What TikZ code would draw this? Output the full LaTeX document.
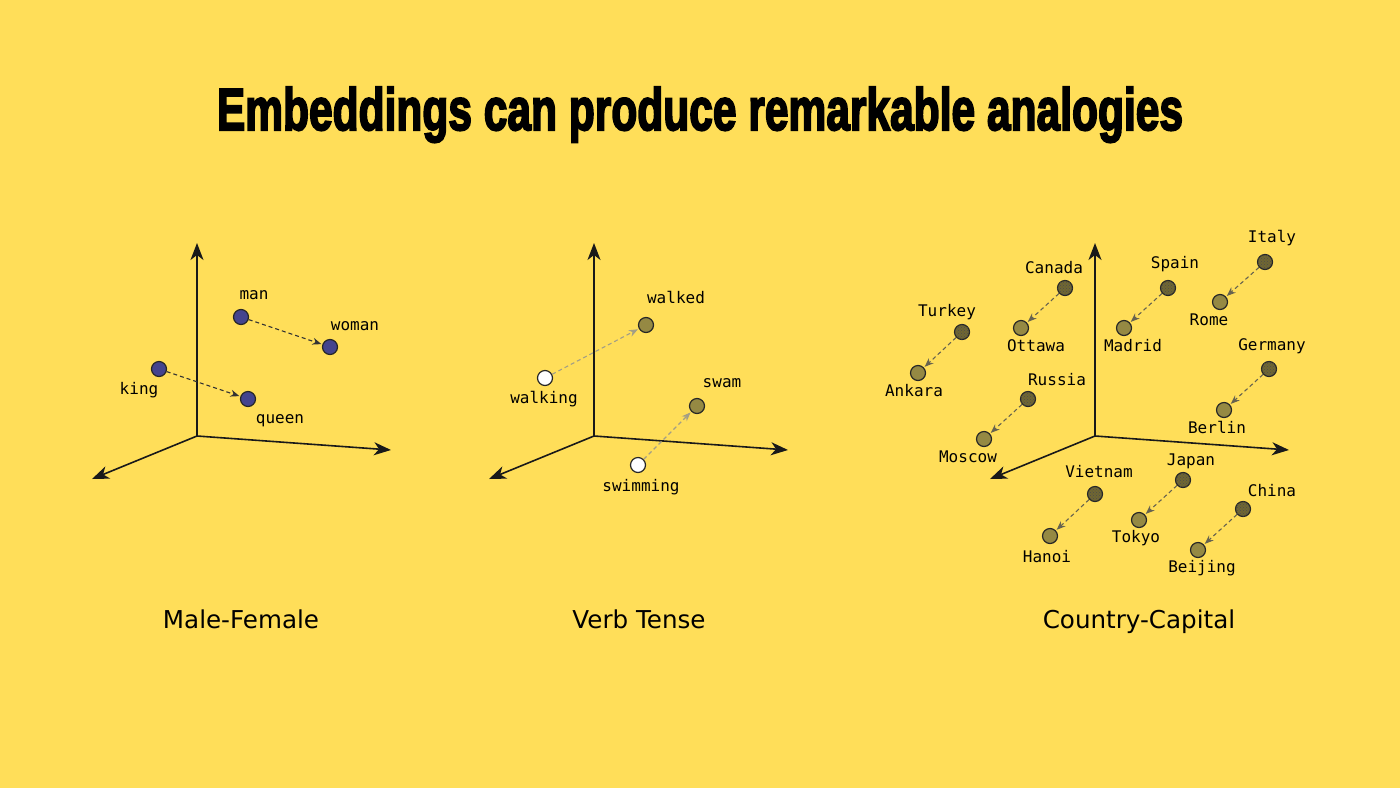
\documentclass[tikz,border=0pt]{standalone}
\usepackage{graphicx}
\usepackage{fontspec}
\setmainfont{DejaVu Sans}
\setmonofont{DejaVu Sans Mono}
\newfontfamily\titlefont[BoldFeatures={FakeBold=3.5}]{Liberation Sans}
\usetikzlibrary{arrows.meta, patterns, calc}
\definecolor{bgyel}{HTML}{FFDE59}
\definecolor{dotblue}{HTML}{44448E}
\definecolor{dotolive}{HTML}{958943}
\definecolor{vtgray}{HTML}{A39E86}
\definecolor{cvgray}{HTML}{67634F}
\tikzset{
  axs/.style={-{Stealth[length=17pt, width=13pt, inset=5pt]}, line width=1.6pt, draw=black!90},
  pt/.style={circle, draw=black!85, line width=1.2pt, minimum size=15pt, inner sep=0pt},
  blu/.style={pt, fill=dotblue},
  opn/.style={pt, fill=white},
  olv/.style={pt, fill=dotolive},
  ctry/.style={pt, fill=dotolive!75!black, postaction={pattern=crosshatch dots, pattern color=black!70}},
  vec/.style={-{Stealth[length=9pt, width=7pt]}, dash pattern=on 4pt off 3pt, line width=1.1pt, shorten >=1pt},
  wlab/.style={font=\ttfamily\fontsize{16}{16}\selectfont, inner sep=0pt, text height=12pt, text depth=3pt},
  sub/.style={font=\fontsize{24.6}{26}\selectfont, anchor=base, inner sep=0pt}
}
\newcommand{\drawaxes}[2]{%
  \coordinate (#1o) at (#2);
  \coordinate (#1y) at ($(#1o)+(0,-193)$);
  \coordinate (#1x) at ($(#1o)+(194,14)$);
  \coordinate (#1z) at ($(#1o)+(-105,43)$);
  \draw[axs] (#1o) -- (#1y);
  \draw[axs] (#1o) -- (#1x);
  \draw[axs] (#1o) -- (#1z);}

\begin{document}
\begin{tikzpicture}[x=1pt, y=-1pt]
	\fill[bgyel] (0,0) rectangle (1400,788);
	\useasboundingbox (0,0) rectangle (1400,788);
	\node[anchor=base, inner sep=0pt] (title) at (700,130)
		{\resizebox{966pt}{43pt}{\titlefont\bfseries Embeddings can produce remarkable analogies}};

	% male - female
	\drawaxes{a}{197,436}
	\node[blu] (man) at (241,317) {};
	\node[blu] (woman) at (330,347) {};
	\node[blu] (king) at (159,369) {};
	\node[blu] (queen) at (248,399) {};
	\node[wlab] (lman) at (254,295) {man};
	\node[wlab] (lwoman) at (355,326) {woman};
	\node[wlab] (lking) at (139,390) {king};
	\node[wlab] (lqueen) at (280,419) {queen};
	\draw[vec, draw=black!80] (man) -- (woman);
	\draw[vec, draw=black!80] (king) -- (queen);
	\node[sub] (t1) at (241,628) {Male-Female};

	% verb tense
	\drawaxes{b}{594,436}
	\node[olv] (walked) at (646,325) {};
	\node[opn] (walking) at (545,378) {};
	\node[olv] (swam) at (697,406) {};
	\node[opn] (swimming) at (638,465) {};
	\node[wlab] (lwalked) at (676,299) {walked};
	\node[wlab] (lwalking) at (544,399) {walking};
	\node[wlab] (lswam) at (722,383) {swam};
	\node[wlab] (lswimming) at (641,487) {swimming};
	\draw[vec, draw=vtgray] (walking) -- (walked);
	\draw[vec, draw=vtgray] (swimming) -- (swam);
	\node[sub] (t2) at (639,628) {Verb Tense};

	% country - capital
	\drawaxes{c}{1095,436}
	\foreach \cn/\cx/\cy/\lx/\ly/\kn/\kx/\ky/\mx/\my in {
		Italy/1265/262/1272/238/Rome/1220/302/1209/321,
		Spain/1168/288/1175/264/Madrid/1124/328/1133/347,
		Canada/1065/288/1054/269/Ottawa/1021/328/1036/347,
		Turkey/962/332/947/312/Ankara/918/373/914/392,
		Russia/1028/399/1057/381/Moscow/984/439/968/458,
		Germany/1269/369/1272/346/Berlin/1224/410/1217/429,
		Vietnam/1095/494/1099/473/Hanoi/1050/536/1047/558,
		Japan/1183/480/1191/461/Tokyo/1139/520/1136/538,
		China/1243/509/1272/492/Beijing/1198/550/1202/568}{
		\node[ctry] (\cn) at (\cx,\cy) {};
		\node[olv] (\kn) at (\kx,\ky) {};
		\node[wlab] (l\cn) at (\lx,\ly) {\cn};
		\node[wlab] (l\kn) at (\mx,\my) {\kn};
		\draw[vec, draw=cvgray] (\cn) -- (\kn);
	}
	\node[sub] (t3) at (1139,628) {Country-Capital};
\end{tikzpicture}
\end{document}
